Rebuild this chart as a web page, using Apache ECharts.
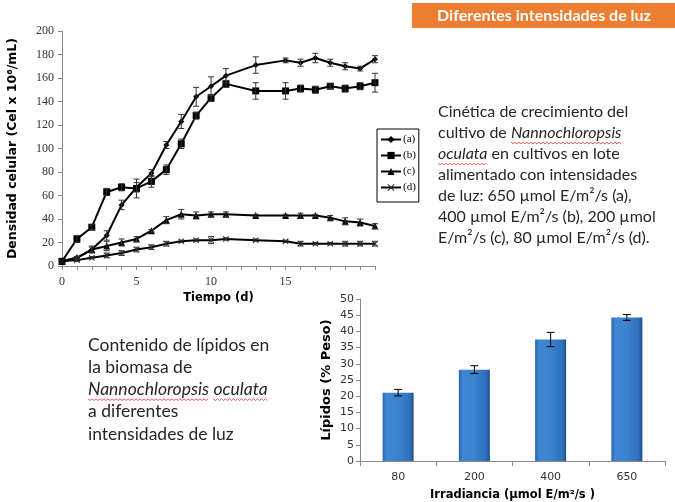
<!DOCTYPE html>
<html>
<head>
<meta charset="utf-8">
<script src="https://cdn.jsdelivr.net/npm/echarts@6/dist/echarts.min.js"></script>
<style>
  html, body { margin: 0; padding: 0; background: #fff; }
  #chart { width: 675px; height: 502px; }
</style>
</head>
<body>
<div id="chart"></div>
<script>
// Growth kinetics: days of culture and cell density (cells x 10^6 / mL)
const days = [0, 1, 2, 3, 4, 5, 6, 7, 8, 9, 10, 11, 13, 15, 16, 17, 18, 19, 20, 21];
const seriesA = [4, 7, 14, 26, 52, 67, 79, 103, 123, 144, 153, 162, 171, 175, 173, 177, 173, 170, 168, 176];
const seriesB = [4, 23, 33, 63, 67, 66, 72, 82, 104, 128, 143, 155, 149, 149, 151, 150, 153, 151, 153, 156];
const seriesC = [4, 7, 14, 17, 20, 23, 30, 39, 44, 43, 44, 44, 43, 43, 43, 43, 41, 38, 37, 34];
const seriesD = [4, 5, 7, 9, 11, 14, 16, 19, 21, 22, 22, 23, 22, 21, 19, 19, 19, 19, 19, 19];
// Standard deviations for each point
const errA = [0, 1, 2, 4, 4, 4, 3, 3, 6, 8, 8, 6, 7, 2, 3, 4, 3, 3, 2, 3];
const errB = [0, 3, 2, 3, 3, 8, 5, 4, 4, 3, 3, 3, 7, 7, 3, 3, 2, 3, 3, 8];
const errC = [0, 1, 3, 4, 3, 2, 1, 3, 4, 3, 2, 2, 1, 1, 2, 1, 2, 3, 3, 2];
const errD = [0, 1, 1, 2, 2, 2, 2, 2, 1, 1, 3, 1, 1, 1, 2, 1, 1, 2, 2, 2];
const seriesNames = ['(a)', '(b)', '(c)', '(d)'];

// Lipid content per irradiance level
const irradiance = ['80', '200', '400', '650'];
const lipids = [21.1, 28.2, 37.5, 44.3];
const lipidsErr = [1.0, 1.2, 2.2, 0.9];

const SERIF = '"Liberation Serif", "DejaVu Serif", serif';
const SANS = '"DejaVu Sans", sans-serif';
const BODY = 'Lato, "Open Sans", sans-serif';
const TEXT_COLOR = '#262626';

const xMark = 'path://M0,1L1,0L5,4L9,0L10,1L6,5L10,9L9,10L5,6L1,10L0,9L4,5Z';
const symbols = ['diamond', 'rect', 'triangle', xMark];
const symbolSizes = [6, 7, 7, 6];
const values = [seriesA, seriesB, seriesC, seriesD];
const errors = [errA, errB, errC, errD];

function errorBarItem(params, api) {
  const x = api.value(0);
  const lo = api.coord([x, api.value(1)]);
  const hi = api.coord([x, api.value(2)]);
  const isBar = params.seriesIndex >= 8;
  const cap = isBar ? 4 : 3;
  const style = { stroke: isBar ? '#000' : '#333', lineWidth: 1 };
  return {
    type: 'group',
    children: [
      { type: 'line', shape: { x1: lo[0], y1: lo[1], x2: hi[0], y2: hi[1] }, style },
      { type: 'line', shape: { x1: lo[0] - cap, y1: lo[1], x2: lo[0] + cap, y2: lo[1] }, style },
      { type: 'line', shape: { x1: hi[0] - cap, y1: hi[1], x2: hi[0] + cap, y2: hi[1] }, style }
    ]
  };
}

const series = [];
values.forEach((vals, i) => {
  series.push({
    name: seriesNames[i],
    type: 'line',
    xAxisIndex: 0, yAxisIndex: 0,
    data: days.map((d, k) => [d, vals[k]]),
    symbol: symbols[i],
    symbolSize: symbolSizes[i],
    showAllSymbol: true,
    lineStyle: { color: '#000', width: 2 },
    itemStyle: { color: i === 3 ? '#222' : '#000' },
    z: 3
  });
});
values.forEach((vals, i) => {
  series.push({
    type: 'custom',
    xAxisIndex: 0, yAxisIndex: 0,
    renderItem: errorBarItem,
    data: days.map((d, k) => [d, vals[k] - errors[i][k], vals[k] + errors[i][k]]).filter((r) => r[2] - r[1] > 0),
    z: 4,
    silent: true
  });
});
series.push({
  type: 'bar',
  xAxisIndex: 1, yAxisIndex: 1,
  data: lipids,
  barWidth: 31,
  itemStyle: {
    color: {
      type: 'linear', x: 0, y: 0, x2: 1, y2: 0,
      colorStops: [
        { offset: 0, color: '#2a64ad' },
        { offset: 0.12, color: '#3f86d3' },
        { offset: 0.5, color: '#3b82cf' },
        { offset: 0.88, color: '#2f70bb' },
        { offset: 1, color: '#1d4f8f' }
      ]
    }
  },
  z: 2
});
series.push({
  type: 'custom',
  xAxisIndex: 1, yAxisIndex: 1,
  renderItem: errorBarItem,
  data: lipids.map((v, k) => [k, v - lipidsErr[k], v + lipidsErr[k]]),
  z: 5,
  silent: true
});

// Text measurement for placing the wavy underlines of the species name
const measureCtx = document.createElement('canvas').getContext('2d');
function textWidth(str, size, italic) {
  measureCtx.font = `${italic ? 'italic ' : ''}${size}px ${BODY}`;
  return measureCtx.measureText(str).width;
}
function wavy(x0, x1, y) {
  const pts = [];
  let up = true;
  for (let x = x0; x <= x1; x += 2) {
    pts.push([x, up ? y : y + 1.6]);
    up = !up;
  }
  return {
    type: 'polyline', shape: { points: pts },
    style: { stroke: '#e03030', lineWidth: 0.8, fill: null }, silent: true
  };
}

const graphics = [];
function bodyLine(parts, x, y, size) {
  // parts: array of [text, italic, underlined]
  const text = parts.map(([t, it]) => (it ? `{i|${t}}` : t)).join('');
  graphics.push({
    type: 'text', x, y,
    style: {
      text, fill: TEXT_COLOR, font: `${size}px ${BODY}`,
      rich: { i: { fontStyle: 'italic', fontSize: size, fontFamily: BODY, fill: TEXT_COLOR } }
    }
  });
  let cx = x;
  parts.forEach(([t, it, ul]) => {
    const w = textWidth(t, size, it);
    if (ul) {
      const lead = t.length - t.trimStart().length;
      const start = cx + (lead ? textWidth(t.slice(0, lead), size, it) : 0);
      const trail = t.length - t.trimEnd().length;
      const end = cx + w - (trail ? textWidth(t.slice(t.length - trail), size, it) : 0);
      graphics.push(wavy(start, end, y + size * 1.08));
    }
    cx += w;
  });
}

// section header
graphics.push({ type: 'rect', shape: { x: 412, y: 3, width: 263, height: 25 }, style: { fill: '#ED7D31' } });
graphics.push({
  type: 'text', x: 544, y: 16,
  style: {
    text: 'Diferentes intensidades de luz', align: 'center', verticalAlign: 'middle',
    fill: '#fff', font: `bold 16px ${BODY}`
  }
});

// description of the growth curves
const RS = 16;
bodyLine([['Cinética de crecimiento del']], 438, 104, RS);
bodyLine([['cultivo de '], ['Nannochloropsis', true, true]], 438, 125, RS);
bodyLine([['oculata', true, true], [' en cultivos en lote']], 438, 146, RS);
bodyLine([['alimentado con intensidades']], 438, 167, RS);
bodyLine([['de luz: 650 µmol E/m²/s (a),']], 438, 188, RS);
bodyLine([['400 µmol E/m²/s (b), 200 µmol']], 438, 209, RS);
bodyLine([['E/m²/s (c), 80 µmol E/m²/s (d).']], 438, 230, RS);

// description of the lipid bars
const LS = 17.5;
bodyLine([['Contenido de lípidos en']], 88, 336, LS);
bodyLine([['la biomasa de']], 88, 358, LS);
bodyLine([['Nannochloropsis', true, true], [' '], ['oculata', true, true]], 88, 380, LS);
bodyLine([['a diferentes']], 88, 402, LS);
bodyLine([['intensidades de luz']], 88, 425, LS);

const chart = echarts.init(document.getElementById('chart'), null, { renderer: 'canvas' });

chart.setOption({
  backgroundColor: '#fff',
  animation: false,
  grid: [
    { left: 62, top: 31, width: 313, height: 235 },
    { left: 360, top: 299, width: 305, height: 165 }
  ],
  legend: {
    data: seriesNames,
    orient: 'vertical',
    left: 377, top: 129,
    borderColor: '#000', borderWidth: 1,
    padding: [5, 3, 9, 3],
    itemGap: 5,
    itemWidth: 20, itemHeight: 9,
    textStyle: { fontFamily: SERIF, fontSize: 11, color: '#000', padding: [0, 0, 0, -3] }
  },
  xAxis: [
    {
      gridIndex: 0, type: 'value', min: 0, max: 21, interval: 1,
      axisLine: { lineStyle: { color: '#888' } },
      axisTick: { show: true, length: 4, lineStyle: { color: '#888' } },
      axisLabel: {
        fontFamily: SERIF, fontSize: 12, color: '#333', margin: 10,
        formatter: (v) => (v % 5 === 0 && v < 20 ? String(v) : '')
      },
      splitLine: { show: false },
      name: 'Tiempo (d)', nameLocation: 'middle', nameGap: 26,
      nameTextStyle: { fontFamily: SANS, fontWeight: 'bold', fontSize: 11.5, color: '#000' }
    },
    {
      gridIndex: 1, type: 'category', data: irradiance,
      axisLine: { lineStyle: { color: '#888' } },
      axisTick: { show: true, length: 5, lineStyle: { color: '#888' } },
      axisLabel: { fontFamily: SANS, fontSize: 11, color: '#333', margin: 11 },
      name: 'Irradiancia (µmol E/m²/s )', nameLocation: 'middle', nameGap: 28,
      nameTextStyle: { fontFamily: SANS, fontWeight: 'bold', fontSize: 11.5, color: '#000' }
    }
  ],
  yAxis: [
    {
      gridIndex: 0, type: 'value', min: 0, max: 200, interval: 20,
      axisLine: { show: true, lineStyle: { color: '#888' } },
      axisTick: { show: true, length: 4, lineStyle: { color: '#888' } },
      axisLabel: { fontFamily: SERIF, fontSize: 12, color: '#333', margin: 8 },
      splitLine: { show: false },
      name: 'Densidad celular (Cel x 10⁶/mL)', nameLocation: 'middle', nameGap: 43,
      nameTextStyle: { fontFamily: SANS, fontWeight: 'bold', fontSize: 12.5, color: '#000' }
    },
    {
      gridIndex: 1, type: 'value', min: 0, max: 50, interval: 5,
      axisLine: { show: true, lineStyle: { color: '#888' } },
      axisTick: { show: true, length: 4, lineStyle: { color: '#888' } },
      axisLabel: { fontFamily: SANS, fontSize: 11, color: '#333', margin: 6 },
      splitLine: { show: false },
      name: 'Lípidos (% Peso)', nameLocation: 'middle', nameGap: 27,
      nameTextStyle: { fontFamily: SANS, fontWeight: 'bold', fontSize: 13, color: '#000' }
    }
  ],
  series,
  graphic: graphics
});
</script>
</body>
</html>
